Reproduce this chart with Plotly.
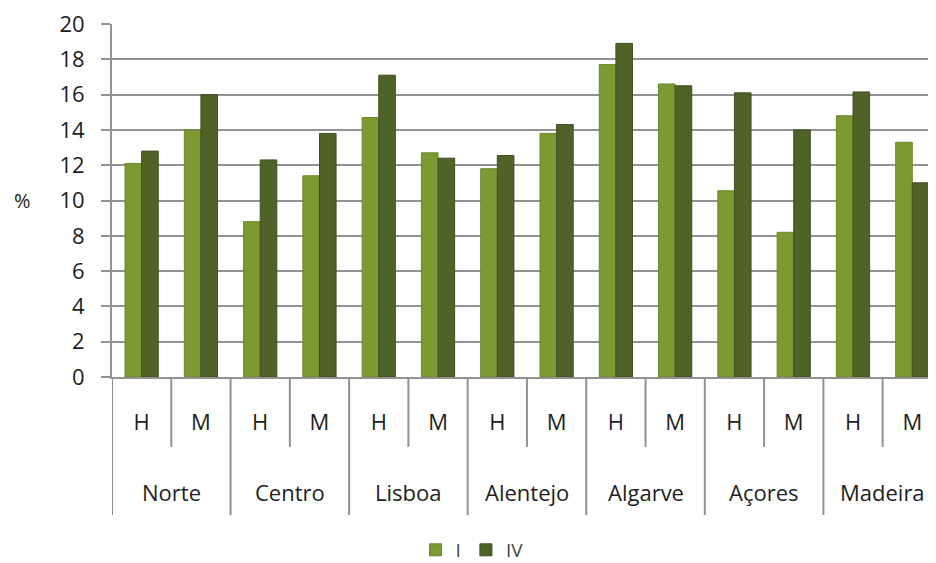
import plotly.graph_objects as go

regions = ["Norte", "Centro", "Lisboa", "Alentejo", "Algarve", "Açores", "Madeira"]
sexes = ["H", "M"]
series_names = ["I", "IV"]
values_I = [12.1, 14.0, 8.8, 11.4, 14.7, 12.7, 11.8, 13.8, 17.7, 16.6, 10.55, 8.2, 14.8, 13.3]
values_IV = [12.8, 16.0, 12.3, 13.8, 17.1, 12.4, 12.55, 14.3, 18.9, 16.5, 16.1, 14.0, 16.15, 11.0]
y_ticks = list(range(0, 21, 2))

cat_labels = [s for r in regions for s in sexes]
x_pos = list(range(len(cat_labels)))
n_sub = len(sexes)

FONT = "Open Sans"
GRID = "#929292"
TXT = "#1e1e1e"

fig = go.Figure()
fig.add_trace(go.Bar(x=x_pos, y=values_I, name=series_names[0],
                     marker=dict(color="#7b9b32", line=dict(color="#68862a", width=1))))
fig.add_trace(go.Bar(x=x_pos, y=values_IV, name=series_names[1],
                     marker=dict(color="#4f6228", line=dict(color="#3f5020", width=1))))

# page body adds an 8px offset, so the figure is 8px smaller than the window
fig.update_layout(
    width=928, height=555,
    margin=dict(l=104, r=0, t=16, b=186, autoexpand=False),
    paper_bgcolor="white", plot_bgcolor="white",
    barmode="group", bargap=0.44, bargroupgap=0,
    font=dict(family=FONT, size=22, color=TXT),
    legend=dict(orientation="h", x=0.437, xanchor="center", y=-0.49, yanchor="middle",
                font=dict(size=19, color="#444444"), itemwidth=30,
                tracegroupgap=0),
    showlegend=True,
)
fig.update_yaxes(range=[0, 20], tickvals=y_ticks, showgrid=True, gridcolor=GRID, gridwidth=2,
                 showline=True, linecolor=GRID, linewidth=2, ticks="outside", ticklen=9,
                 tickcolor=GRID, tickwidth=2, ticklabelstandoff=12, zeroline=False,
                 automargin=False, ticklabeloverflow="allow")
fig.update_xaxes(range=[-0.5, 13.4], tickvals=x_pos, ticktext=cat_labels, showgrid=False,
                 showline=True, linecolor=GRID, linewidth=2, ticks="",
                 ticklabelstandoff=25, automargin=False, zeroline=False)

# separators under the category axis (between sub-categories and between regions)
for gi in range(len(regions) + 1):
    xb = gi * n_sub - 0.5
    fig.add_shape(type="line", xref="x", yref="paper", x0=xb, x1=xb, y0=0, y1=-0.391,
                  line=dict(color=GRID, width=2))
for gi in range(len(regions)):
    for j in range(1, n_sub):
        xb = gi * n_sub + j - 0.5
        fig.add_shape(type="line", xref="x", yref="paper", x0=xb, x1=xb, y0=0, y1=-0.198,
                      line=dict(color=GRID, width=2))
for gi, name in enumerate(regions):
    fig.add_annotation(text=name, xref="x", yref="paper", x=gi * n_sub + (n_sub - 1) / 2,
                       y=-0.326, yanchor="middle", showarrow=False,
                       font=dict(size=22, color=TXT))

fig.add_annotation(text="%", xref="paper", yref="y", x=-0.121, xanchor="left", y=10,
                   showarrow=False, font=dict(size=20, color=TXT))

fig.write_html("out.html")
